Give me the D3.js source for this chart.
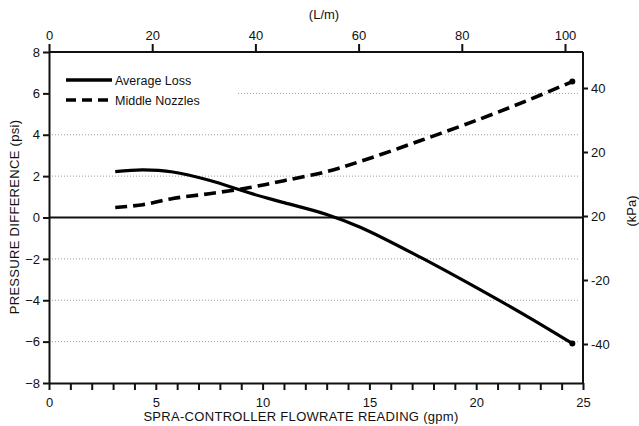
<!DOCTYPE html>
<html>
<head>
<meta charset="utf-8">
<script src="https://cdn.jsdelivr.net/npm/d3@7"></script>
<style>
  body{ margin:0; background:#fff; }
  svg{ display:block; font-family:"Liberation Sans", Arial, sans-serif; }
  .tick text{ font-size:13px; fill:#111; }
  .grid{ stroke:#999; stroke-width:1; stroke-dasharray:1,2; }
</style>
</head>
<body>
<svg id="chart" width="639" height="426"></svg>
<script>
/* Datos (gpm vs psi) */
const gpm       = [3.1, 4.4, 5.8, 7.5, 9.4, 11.0, 13.0, 14.6, 17.4, 20.2, 22.5, 24.5];
const avgLoss   = [2.22, 2.3, 2.2, 1.8, 1.18, 0.72, 0.15, -0.48, -1.93, -3.5, -4.85, -6.09];
const midNozz   = [0.48, 0.62, 0.92, 1.15, 1.45, 1.78, 2.22, 2.72, 3.72, 4.77, 5.7, 6.57];

const psiTicks  = [-8, -6, -4, -2, 0, 2, 4, 6, 8];
const gridPsi   = [-6, -4, -2, 2, 4, 6];
const gpmTicks  = [0, 5, 10, 15, 20, 25];
const lpmTicks  = [0, 20, 40, 60, 80, 100];
const kpaTicks  = [40, 20, 0, -20, -40];
const kpaLabels = ["40", "20", "20", "-20", "-40"];

const svg = d3.select("#chart");
const L = 49, R = 583, T = 52, B = 383;

const x  = d3.scaleLinear().domain([0, 25]).range([L, R]);
const xt = d3.scaleLinear().domain([0, 100]).range([L, 565]);
const y  = d3.scaleLinear().domain([-8, 8]).range([B, T]);
const y2 = d3.scaleLinear().domain([-40, 40]).range([344, 88]);

/* rejilla punteada */
svg.append("g").selectAll("line")
  .data(gridPsi).enter().append("line")
  .attr("class", "grid")
  .attr("x1", d => d === 6 ? 238 : L + 3)
  .attr("x2", R - 3)
  .attr("y1", d => y(d)).attr("y2", d => y(d));

/* línea de cero */
svg.append("line")
  .attr("x1", L).attr("x2", R)
  .attr("y1", y(0)).attr("y2", y(0))
  .attr("stroke", "#111").attr("stroke-width", 2);

function styleAxis(g){
  g.select(".domain").attr("stroke", "#111").attr("stroke-width", 2);
  g.selectAll(".tick line").attr("stroke", "#111").attr("stroke-width", 2);
}

/* eje inferior: menores cada 1 gpm */
svg.append("g")
  .attr("transform", `translate(0,${B})`)
  .call(d3.axisBottom(x).tickValues(d3.range(0, 26)).tickSize(7).tickSizeOuter(0)
    .tickFormat(d => gpmTicks.includes(d) ? d : ""))
  .call(styleAxis)
  .call(g => g.selectAll(".tick text").attr("dy", "1.05em"));

/* eje superior (L/m) */
svg.append("g")
  .attr("transform", `translate(0,${T})`)
  .call(d3.axisTop(xt).tickValues(lpmTicks).tickSize(8).tickSizeOuter(0))
  .call(styleAxis)
  .call(g => g.select(".domain").attr("d", `M${L},0H${R}`))
  .call(g => g.selectAll(".tick text").attr("dy", "-0.05em"));

/* eje izquierdo (psi) */
svg.append("g")
  .attr("transform", `translate(${L},0)`)
  .call(d3.axisLeft(y).tickValues(psiTicks).tickSize(6).tickSizeOuter(0))
  .call(styleAxis);

/* eje derecho (kPa) */
svg.append("g")
  .attr("transform", `translate(${R},0)`)
  .call(d3.axisRight(y2).tickValues(kpaTicks).tickSize(5).tickSizeOuter(0)
    .tickFormat((d, i) => kpaLabels[i]))
  .call(styleAxis)
  .call(g => g.select(".domain").attr("d", `M0,${T}V${B}`));

/* curvas */
const line = d3.line().curve(d3.curveCatmullRom.alpha(0.5))
  .x(d => x(d[0])).y(d => y(d[1]));

svg.append("path")
  .datum(gpm.map((g, i) => [g, avgLoss[i]]))
  .attr("d", line).attr("fill", "none")
  .attr("stroke", "#000").attr("stroke-width", 3.2);

svg.append("path")
  .datum(gpm.map((g, i) => [g, midNozz[i]]))
  .attr("d", line).attr("fill", "none")
  .attr("stroke", "#000").attr("stroke-width", 3.6)
  .attr("stroke-dasharray", "12,6");

const last = gpm.length - 1;
svg.selectAll("circle.end")
  .data([[gpm[last], avgLoss[last]], [gpm[last], midNozz[last]]])
  .enter().append("circle")
  .attr("class", "end")
  .attr("cx", d => x(d[0])).attr("cy", d => y(d[1])).attr("r", 3);

/* leyenda */
const legend = [
  { name: "Average Loss", dash: null, y: 80 },
  { name: "Middle Nozzles", dash: "10,6", y: 100 }
];
const lg = svg.append("g");
lg.selectAll("line").data(legend).enter().append("line")
  .attr("x1", 66).attr("x2", 112)
  .attr("y1", d => d.y).attr("y2", d => d.y)
  .attr("stroke", "#000").attr("stroke-width", 3.5)
  .attr("stroke-dasharray", d => d.dash);
lg.selectAll("text").data(legend).enter().append("text")
  .attr("x", 115).attr("y", d => d.y + 4.5)
  .attr("font-size", 12.5).attr("fill", "#111")
  .text(d => d.name);

/* títulos */
svg.append("text")
  .attr("x", 301).attr("y", 421).attr("text-anchor", "middle")
  .attr("font-size", 13).attr("letter-spacing", 0.3).attr("fill", "#111")
  .text("SPRA-CONTROLLER FLOWRATE READING (gpm)");

svg.append("text")
  .attr("x", 324).attr("y", 19).attr("text-anchor", "middle")
  .attr("font-size", 13).attr("fill", "#111")
  .text("(L/m)");

svg.append("text")
  .attr("transform", "translate(19,217) rotate(-90)")
  .attr("text-anchor", "middle")
  .attr("font-size", 13).attr("letter-spacing", 0.3).attr("fill", "#111")
  .text("PRESSURE DIFFERENCE (psi)");

svg.append("text")
  .attr("transform", "translate(636,211) rotate(-90)")
  .attr("text-anchor", "middle")
  .attr("font-size", 13).attr("fill", "#111")
  .text("(kPa)");
</script>
</body>
</html>
